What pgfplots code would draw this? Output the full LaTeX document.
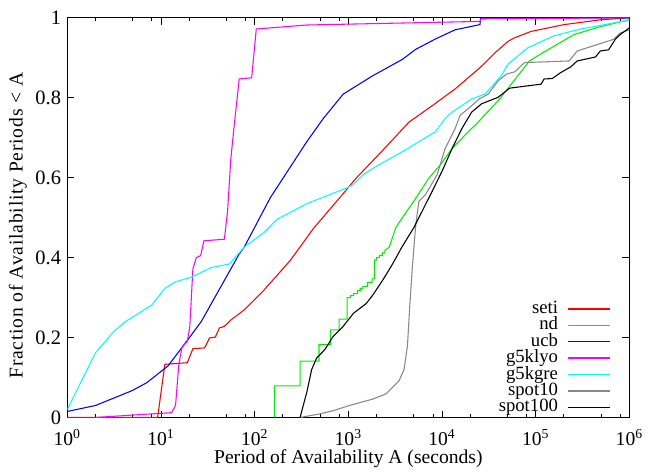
\documentclass[border=0pt]{standalone}
\usepackage{fontspec}
\setmainfont{Liberation Serif}
\newfontfamily\ylabfont[LetterSpace=4]{Liberation Serif}
\usepackage{pgfplots}
\pgfplotsset{compat=1.18}
\definecolor{cRed}{RGB}{255,0,0}
\definecolor{cGreen}{RGB}{0,238,0}
\definecolor{cBlue}{RGB}{0,0,255}
\definecolor{cMag}{RGB}{255,0,255}
\definecolor{cCyan}{RGB}{0,255,255}
\definecolor{cGray}{RGB}{136,136,136}
\definecolor{cBlack}{RGB}{0,0,0}
\begin{document}
\begin{tikzpicture}[font=\fontsize{11}{13}\selectfont]
\begin{axis}[
  width=315.6pt, height=224.4pt, scale only axis,
  xmode=log, log basis x=10,
  xmin=1, xmax=1e6, ymin=0, ymax=1,
  xtick={1,10,100,1000,10000,100000,1000000},
  xticklabels={10\textsuperscript{0},10\textsuperscript{1},10\textsuperscript{2},10\textsuperscript{3},10\textsuperscript{4},10\textsuperscript{5},10\textsuperscript{6}},
  minor xtick={2,5,8,20,50,80,200,500,800,2000,5000,8000,20000,50000,80000,200000,500000,800000},
  ytick={0,0.2,0.4,0.6,0.8,1},
  yticklabels={0,0.2,0.4,0.6,0.8,1},
  xticklabel style={font=\fontsize{11}{13}\selectfont, yshift=-3pt},
  yticklabel style={font=\fontsize{11.5}{13}\selectfont},
  label style={font=\fontsize{11}{13}\selectfont},
  tick align=inside,
  major tick length=3.9pt, minor tick length=2pt,
  every tick/.style={black, line width=0.5pt},
  axis line style={line width=0.6pt},
  xlabel={Period of Availability A (seconds)},
  ylabel={\ylabfont Fraction of Availability Periods < A},
  xlabel style={at={(axis description cs:0.5,-0.102)}, anchor=center},
  ylabel style={at={(axis description cs:-0.088,0.48)}, anchor=center},
  legend style={draw=none, fill=none, at={(axis description cs:0.968,0.004)}, anchor=south east,
    inner sep=0pt, row sep=0pt, column sep=4.5pt, font=\fontsize{10.5}{12}\selectfont,
    nodes={inner sep=0.5pt, text height=6.6pt, text depth=1.6pt}},
  legend cell align=right,
  legend plot pos=right,
  legend image code/.code={\draw[#1,line width=0.8pt] (0pt,0pt) -- (24pt,0pt);},
  every axis plot/.append style={line width=0.6pt},
]
% seti
\addplot[color=cRed] coordinates {
(1,0) (9.2,0) (11,0.133) (19.1,0.137) (21.9,0.172) (29.2,0.174) (33,0.199) (38,0.201) (42,0.224) (47.5,0.228) (55.7,0.244) (77.3,0.269) (126,0.319) (240,0.393) (360,0.45) (424,0.473) (810,0.55) (1213,0.599) (2320,0.668) (4440,0.739) (7850,0.78) (13800,0.822) (26500,0.879) (36600,0.912) (50600,0.941) (59500,0.95) (89300,0.966) (201000,0.983) (490000,0.995) (1000000,1)
};
\addlegendentry{seti}
% nd
\addplot[color=cGreen] coordinates {
(163,0) (163,0.079) (305,0.079) (305,0.141) (486,0.141) (486,0.182) (645,0.182) (645,0.219) (798,0.219) (798,0.246) (968,0.246) (968,0.30) (1050,0.30) (1050,0.305) (1138,0.305) (1138,0.31) (1250,0.31) (1250,0.318) (1340,0.318) (1340,0.323) (1430,0.323) (1430,0.328) (1600,0.328) (1600,0.338) (1790,0.338) (1790,0.347) (1900,0.347) (1900,0.394) (2000,0.394) (2000,0.40) (2140,0.40) (2140,0.405) (2300,0.405) (2300,0.412) (2450,0.412) (2450,0.418) (2730,0.426) (3210,0.475) (3780,0.50) (5230,0.548) (7230,0.599) (9600,0.632) (12800,0.673) (19100,0.715) (23400,0.735) (41300,0.797) (46600,0.813) (85700,0.892) (114000,0.91) (256000,0.958) (490000,0.978) (1000000,0.995)
};
\addlegendentry{nd}
% ucb
\addplot[color=cBlue] coordinates {
(1,0.015) (2,0.03) (4.9,0.067) (7.05,0.087) (11.9,0.129) (19.4,0.195) (26.9,0.24) (47.5,0.343) (68.4,0.409) (77.3,0.426) (147,0.55) (360,0.69) (540,0.748) (880,0.809) (1820,0.855) (3780,0.896) (5230,0.921) (8500,0.947) (13800,0.97) (25400,0.983) (25800,0.999) (1000000,1)
};
\addlegendentry{ucb}
% g5klyo
\addplot[color=cMag] coordinates {
(2,0) (5.8,0.007) (13,0.012) (14.3,0.03) (15.5,0.133) (16.8,0.177) (19.1,0.19) (20.3,0.228) (21.9,0.372) (23.8,0.40) (26.5,0.405) (28.7,0.442) (47.5,0.446) (51.4,0.517) (55.7,0.649) (60.5,0.731) (68.4,0.847) (92.9,0.85) (104,0.972) (360,0.982) (25400,0.991) (26000,0.997) (1000000,1)
};
\addlegendentry{g5klyo}
% g5kgre
\addplot[color=cCyan] coordinates {
(1,0.02) (2,0.162) (3.14,0.215) (4.17,0.24) (7.96,0.281) (11,0.323) (14.1,0.339) (21.1,0.351) (34.3,0.375) (53.6,0.384) (77.3,0.426) (126,0.463) (174,0.496) (360,0.535) (952,0.574) (1122,0.582) (1430,0.607) (1976,0.628) (3780,0.665) (8500,0.715) (10800,0.748) (12800,0.764) (20700,0.797) (28700,0.809) (43000,0.855) (50600,0.884) (82200,0.925) (157000,0.955) (301000,0.972) (677000,0.987) (1000000,0.995)
};
\addlegendentry{g5kgre}
% spot10
\addplot[color=cGray] coordinates {
(305,0) (497,0.009) (689,0.017) (1030,0.03) (1820,0.046) (2520,0.059) (3480,0.092) (3930,0.12) (4270,0.178) (4520,0.277) (4820,0.376) (5230,0.48) (5660,0.541) (6670,0.558) (8850,0.607) (10800,0.673) (13800,0.723) (15600,0.756) (20700,0.78) (25000,0.797) (31100,0.809) (39600,0.842) (48600,0.859) (60000,0.865) (75900,0.888) (227000,0.892) (277000,0.917) (354000,0.925) (677000,0.946) (797000,0.962) (1000000,0.97)
};
\addlegendentry{spot10}
% spot100
\addplot[color=cBlack] coordinates {
(305,0) (360,0.063) (406,0.12) (459,0.149) (562,0.17) (689,0.203) (880,0.228) (1138,0.261) (1550,0.285) (1820,0.306) (2320,0.343) (2965,0.384) (3720,0.426) (5000,0.475) (7850,0.566) (10000,0.616) (12800,0.673) (16300,0.723) (20700,0.764) (26500,0.785) (39600,0.801) (52700,0.824) (114000,0.834) (123000,0.847) (150000,0.848) (185000,0.863) (236000,0.877) (277000,0.892) (434000,0.902) (490000,0.917) (600000,0.92) (706000,0.946) (797000,0.958) (1000000,0.975)
};
\addlegendentry{spot100}
\end{axis}
\path ([shift={(-37.8pt,-28.9pt)}]current axis.south west) rectangle ([shift={(7.2pt,10pt)}]current axis.north east);
\end{tikzpicture}
\end{document}
